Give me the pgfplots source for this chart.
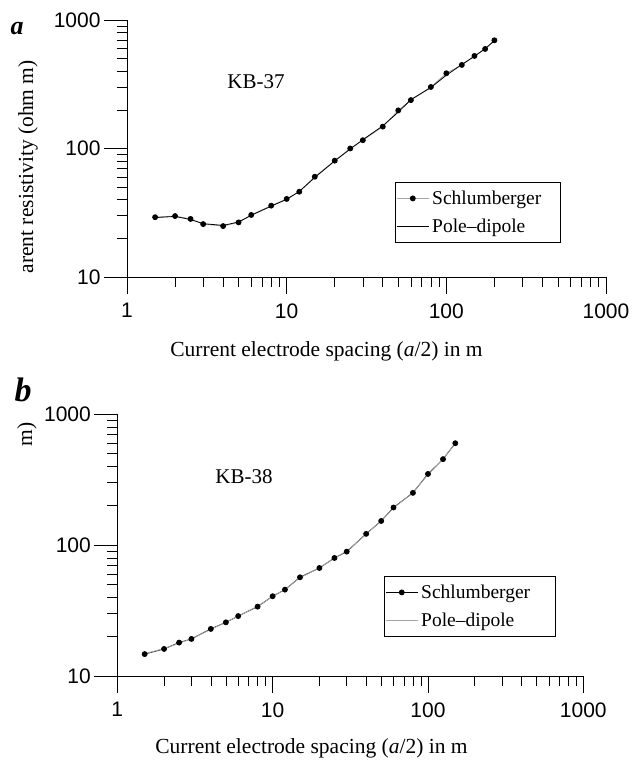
\documentclass[border=0pt]{standalone}
\usepackage{fontspec}
\setmainfont{Liberation Serif}
\setsansfont{Liberation Sans}
\usepackage{pgfplots}
\pgfplotsset{compat=1.18}

\pgfplotsset{
  legend image code/.code={
    \draw[mark repeat=2,mark phase=2,#1] plot coordinates {(0pt,0pt) (16pt,0pt) (32pt,0pt)};},
}
\tikzset{
  schl/.style={line width=0.8pt, mark=*, mark size=2.5pt, mark options={fill=black, draw=black}},
  pole/.style={line width=0.8pt},
}

\begin{document}
\begin{tikzpicture}
\useasboundingbox (0,0) rectangle (634pt,762pt);

% ---- panel a: KB-37
\begin{axis}[scale only axis,
  at={(127pt,485pt)}, anchor=south west,
  width=479pt, height=257pt,
  xmode=log, ymode=log,
  xmin=1, xmax=1000, ymin=10, ymax=1000,
  axis x line*=bottom, axis y line*=left,
  axis line style={line width=0.7pt},
  tick align=outside,
  xtick={1,10,100,1000}, ytick={10,100,1000},
  log ticks with fixed point,
  /pgf/number format/1000 sep={},
  /pgf/number format/assume math mode=true,
  tick label style={font=\sffamily\fontsize{21}{21}\selectfont},
  major tick length=23pt, minor tick length=10pt,
  xtick style={/pgfplots/major tick length=17pt},
  tick style={line width=0.6pt, black},
  legend cell align=left,
  legend style={at={(0.5595,0.3696)}, anchor=north west, draw=black, line width=0.8pt,
    font=\fontsize{19.5}{22}\selectfont, inner xsep=1pt, inner ysep=2pt,
    nodes={inner xsep=3pt, inner ysep=6.5pt}}]
\addplot[schl, gray!70] table {
x y
1.5 29.2
2 29.8
2.5 28.3
3 25.8
4 24.9
5 26.6
6 30.4
8 35.9
10 40.5
12 46.1
15 60.3
20 80.4
25 100
30 116
40 148
50 198
60 238
80 301
100 385
125 447
150 525
175 595
200 695
};
\addlegendentry{Schlumberger\hspace*{15pt}}
\addplot[pole, black] table {
x y
1.5 29.0
2 29.6
2.5 28.0
3 26.0
4 25.2
5 26.8
6 30.2
8 35.6
10 40.2
12 46.3
15 59.5
20 80.0
25 99
30 117
40 150
50 192
60 240
80 298
100 372
125 450
150 522
175 598
200 690
};
\addlegendentry{Pole--dipole}
\end{axis}

% ---- panel b: KB-38
\begin{axis}[scale only axis,
  at={(117.3pt,86pt)}, anchor=south west,
  width=466pt, height=261.7pt,
  xmode=log, ymode=log,
  xmin=1, xmax=1000, ymin=10, ymax=1000,
  axis x line*=bottom, axis y line*=left,
  axis line style={line width=0.7pt},
  tick align=outside,
  xtick={1,10,100,1000}, ytick={10,100,1000},
  log ticks with fixed point,
  /pgf/number format/1000 sep={},
  /pgf/number format/assume math mode=true,
  tick label style={font=\sffamily\fontsize{21}{21}\selectfont},
  major tick length=23pt, minor tick length=10pt,
  xtick style={/pgfplots/major tick length=17pt},
  tick style={line width=0.6pt, black},
  legend cell align=left,
  legend style={at={(0.5723,0.3821)}, anchor=north west, draw=black, line width=0.8pt,
    font=\fontsize{19.5}{22}\selectfont, inner xsep=1pt, inner ysep=2pt,
    nodes={inner xsep=3pt, inner ysep=6.5pt}}]
\addplot[schl, black] table {
x y
1.5 14.7
2 16.1
2.5 18.0
3 19.2
4 22.9
5 25.7
6 28.7
8 33.9
10 40.7
12 45.7
15 56.8
20 66.9
25 79.8
30 89.2
40 122
50 153
60 194
80 251
100 350
125 454
150 601
};
\addlegendentry{Schlumberger\hspace*{21pt}}
\addplot[pole, gray!70] table {
x y
1.5 14.8
2 16.2
2.5 17.8
3 19.3
4 22.7
5 25.8
6 28.6
8 34.1
10 40.5
12 45.9
15 56.3
20 67.2
25 79.5
30 90.0
40 121
50 154
60 192
80 253
100 346
125 456
150 598
};
\addlegendentry{Pole--dipole}
\end{axis}

% ---- panel letters, captions, axis titles
\node[font=\fontsize{26}{26}\selectfont\bfseries\itshape] at (17pt,733pt) {a};
\node[font=\fontsize{34}{34}\selectfont\bfseries\itshape] at (23pt,372pt) {b};
\node[font=\fontsize{21}{21}\selectfont] at (256pt,680pt) {KB-37};
\node[font=\fontsize{21}{21}\selectfont] at (244pt,285pt) {KB-38};
\node[font=\fontsize{21.5}{22}\selectfont, anchor=base, inner sep=0pt] at (326.5pt,405pt)
  {Current electrode spacing (\textit{a}/2) in m};
\node[font=\fontsize{21.5}{22}\selectfont, anchor=base, inner sep=0pt] at (311.5pt,9pt)
  {Current electrode spacing (\textit{a}/2) in m};
\node[font=\fontsize{21.5}{22}\selectfont, rotate=90, anchor=base east, inner sep=0pt] at (33pt,702pt)
  {arent resistivity (ohm m)};
\node[font=\fontsize{21.5}{22}\selectfont, rotate=90, anchor=base east, inner sep=0pt] at (32pt,340pt)
  {m)};
\end{tikzpicture}
\end{document}
